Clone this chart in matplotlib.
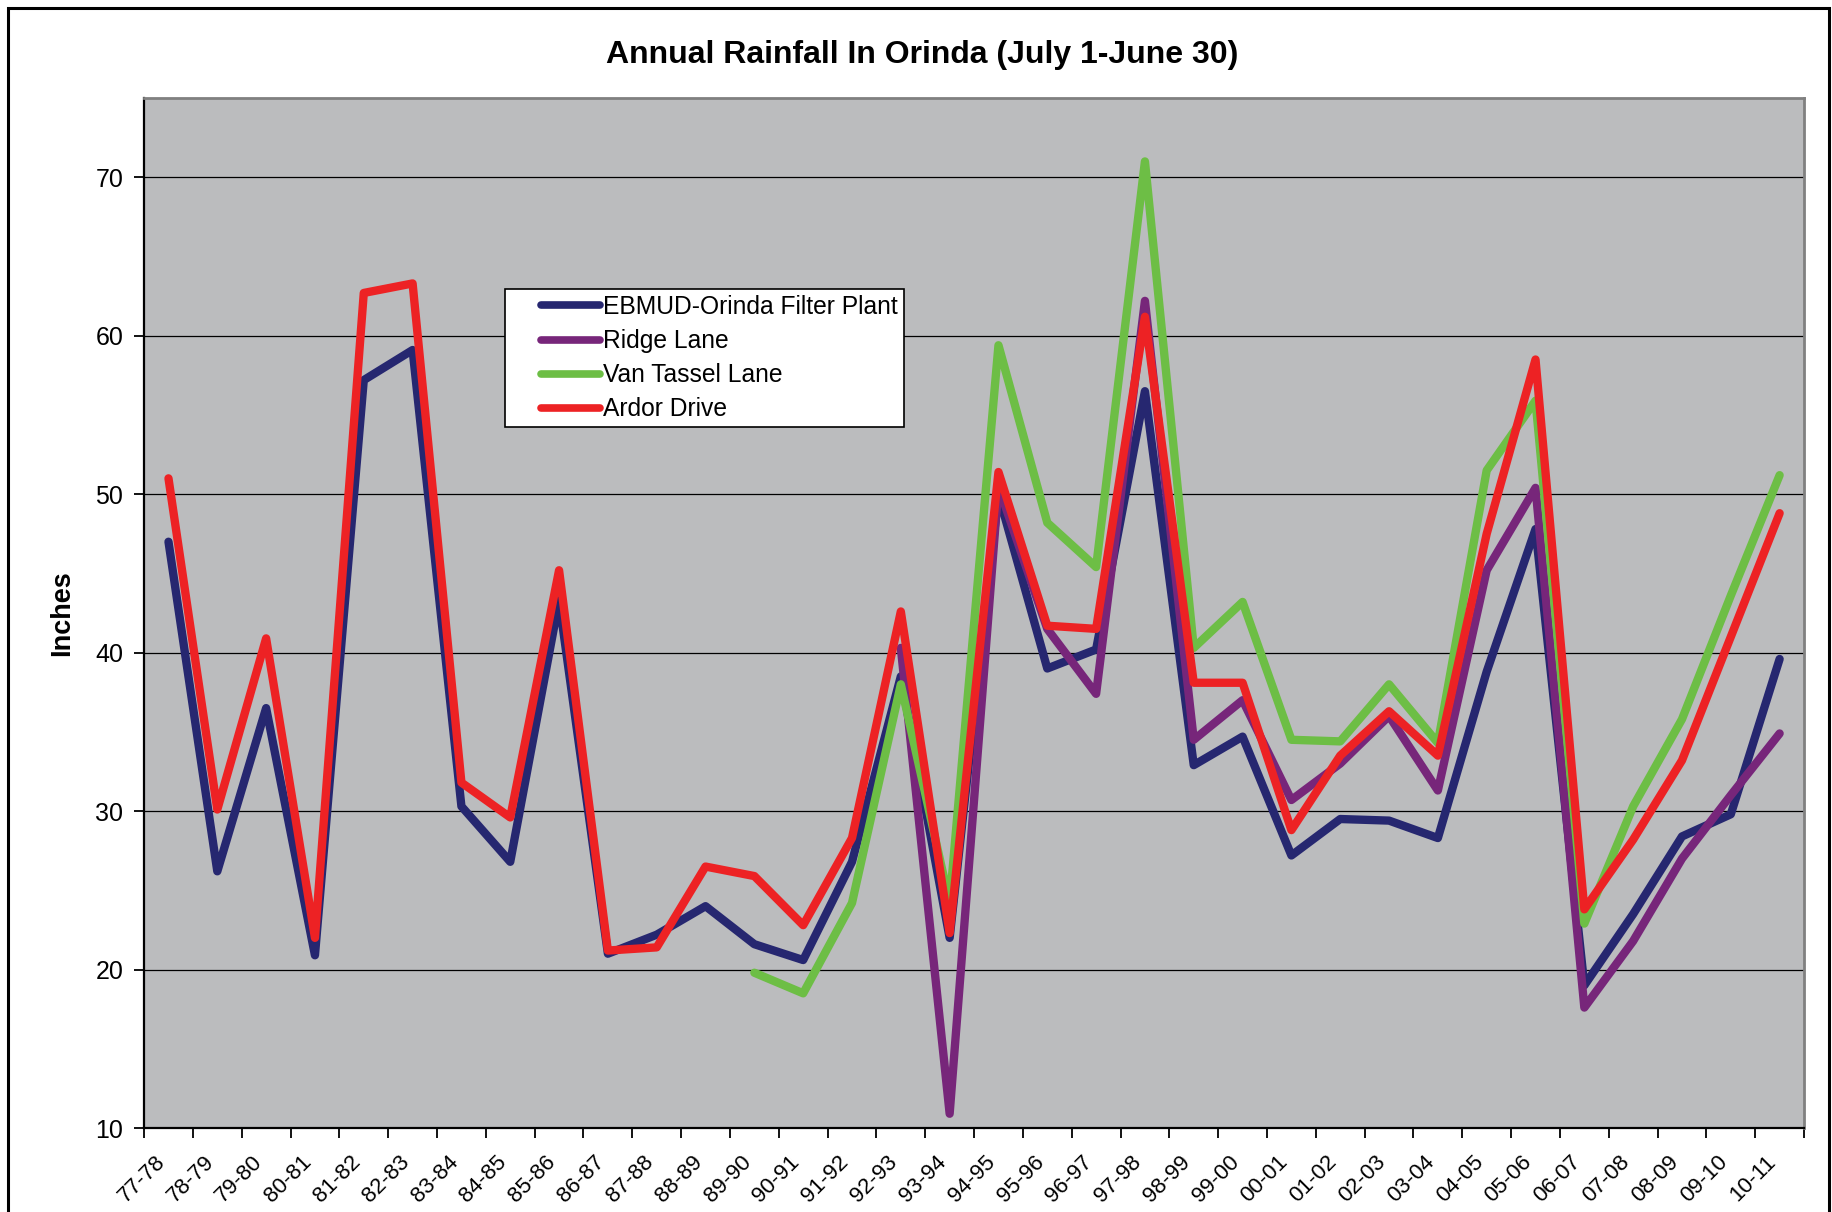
import numpy as np
import matplotlib
matplotlib.use("Agg")
import matplotlib.pyplot as plt
from matplotlib.patches import Rectangle
from matplotlib.transforms import ScaledTranslation

plt.rcParams['font.family'] = ['Liberation Sans', 'DejaVu Sans']

nan = np.nan

# seasons (July 1 - June 30)
seasons = ["77-78", "78-79", "79-80", "80-81", "81-82", "82-83", "83-84", "84-85",
           "85-86", "86-87", "87-88", "88-89", "89-90", "90-91", "91-92", "92-93",
           "93-94", "94-95", "95-96", "96-97", "97-98", "98-99", "99-00", "00-01",
           "01-02", "02-03", "03-04", "04-05", "05-06", "06-07", "07-08", "08-09",
           "09-10", "10-11"]

ebmud = [47.0, 26.2, 36.5, 20.9, 57.2, 59.1, 30.3, 26.8,
         43.3, 21.0, 22.2, 24.0, 21.6, 20.6, 26.8, 38.5,
         22.0, 50.0, 39.0, 40.2, 56.5, 32.9, 34.7, 27.2,
         29.5, 29.4, 28.3, 38.8, 47.8, 19.0, 23.5, 28.4,
         29.8, 39.6]

ridge = [nan, nan, nan, nan, nan, nan, nan, nan,
         nan, nan, nan, nan, nan, nan, nan, 40.3,
         10.9, 50.5, 41.5, 37.4, 62.2, 34.5, 37.0, 30.7,
         33.0, 36.0, 31.3, 45.2, 50.4, 17.6, 21.8, 27.0,
         31.0, 34.9]

van_tassel = [nan, nan, nan, nan, nan, nan, nan, nan,
              nan, nan, nan, nan, 19.8, 18.5, 24.2, 38.0,
              24.2, 59.4, 48.2, 45.4, 71.0, 40.3, 43.2, 34.5,
              34.4, 38.0, 34.3, 51.5, 55.9, 22.9, 30.3, 35.8,
              43.6, 51.2]

ardor = [51.0, 30.1, 40.9, 22.0, 62.7, 63.3, 31.8, 29.6,
         45.2, 21.2, 21.4, 26.5, 25.9, 22.8, 28.3, 42.6,
         22.3, 51.4, 41.7, 41.5, 61.2, 38.1, 38.1, 28.8,
         33.5, 36.3, 33.5, 47.5, 58.5, 23.8, 28.2, 33.2,
         41.0, 48.8]

series = [("EBMUD-Orinda Filter Plant", ebmud, "#262770"),
          ("Ridge Lane", ridge, "#77267a"),
          ("Van Tassel Lane", van_tassel, "#6dbe45"),
          ("Ardor Drive", ardor, "#ed2224")]

fig = plt.figure(figsize=(18.33, 12.12), dpi=100)
ax = fig.add_axes([0.0786, 0.0693, 0.9056, 0.8498])
ax.set_facecolor("#bbbcbe")

x = np.arange(len(seasons))
for name, vals, col in series:
    ax.plot(x, vals, color=col, lw=6, label=name,
            solid_capstyle='round', solid_joinstyle='round', zorder=3)

ax.set_xlim(-0.5, len(seasons) - 0.5)
ax.set_ylim(10, 75)
ax.set_yticks(range(10, 71, 10))
ax.yaxis.grid(True, color="black", lw=0.9)
ax.set_axisbelow(True)

ax.set_xticks(x)
ax.set_xticklabels(seasons, rotation=45, ha='right', va='top',
                   rotation_mode='anchor', fontsize=16)
ax.set_xticks(np.arange(-0.5, len(seasons), 1), minor=True)
ax.tick_params(axis='x', which='major', length=0, pad=17)
ax.tick_params(axis='x', which='minor', length=7, width=1.3, direction='out')
ax.tick_params(axis='y', length=7, width=1.3, labelsize=18, pad=8)
# nudge the slanted labels left (after tick_params, which resets transforms)
shift = ScaledTranslation(-0.14, 0, fig.dpi_scale_trans)
for lab in ax.get_xticklabels():
    lab.set_transform(lab.get_transform() + shift)

for s in ["left", "bottom"]:
    ax.spines[s].set_color("black")
    ax.spines[s].set_linewidth(1.6)
for s in ["top", "right"]:
    ax.spines[s].set_color("#808080")
    ax.spines[s].set_linewidth(2)

ax.set_ylabel("Inches", fontsize=19.5, fontweight='bold')
ax.yaxis.set_label_coords(-0.0415, 0.5)

fig.text(0.503, 0.955, "Annual Rainfall In Orinda (July 1-June 30)",
         ha='center', va='center', fontsize=23, fontweight='bold')

leg = ax.legend(loc='upper left', bbox_to_anchor=(0.2755, 0.7616),
                bbox_transform=fig.transFigure, borderaxespad=0,
                fancybox=False, framealpha=1, edgecolor='black',
                fontsize=17.7, handlelength=3.6, handletextpad=0.15,
                labelspacing=0.41, borderpad=0.25)
leg.get_frame().set_linewidth(1.2)
# legend swatches sit at the right part of the handle box
for h in leg.get_lines():
    h.set_linewidth(5.5)
    xd = np.asarray(h.get_xdata(), dtype=float)
    yd = np.asarray(h.get_ydata(), dtype=float)
    x0, x1 = xd.min(), xd.max()
    h.set_data([x1 - (x1 - x0) * 0.66, x1], [yd[0], yd[0]])

fig.patches.append(Rectangle((8 / 1833, -0.02), 1821 / 1833, 1.02 - 8 / 1212,
                             transform=fig.transFigure, fill=False,
                             edgecolor='black', lw=2.2))

fig.savefig("out.png", dpi=100)
